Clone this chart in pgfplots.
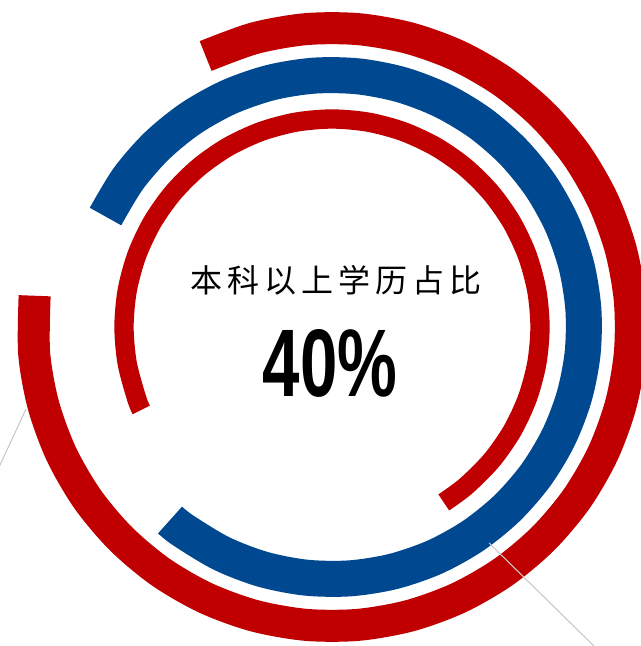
\documentclass[border=0pt]{standalone}
\usepackage{fontspec}
\setmainfont{Liberation Sans}
\newfontfamily\cjk{Noto Sans CJK SC}
\usepackage{pgfplots}
\pgfplotsset{compat=1.18}
\definecolor{arcred}{HTML}{C00000}
\definecolor{arcblue}{HTML}{00488F}
\definecolor{leader}{HTML}{C8C8C8}
\begin{document}
\begin{tikzpicture}
\begin{axis}[
  x=0.75pt, y=0.75pt,
  xmin=-332, xmax=309,
  ymin=-319, ymax=327,
  hide axis,
  clip=true,
]
% outer red ring, radius 299
\addplot[arcred, line width=24pt, smooth, data cs=polar] coordinates {
 (115,299) (105,299) (95,299) (85,299) (75,299) (65,299) (55,299) (45,299)
 (35,299) (25,299) (15,299) (5,299) (-5,299) (-15,299) (-25,299) (-35,299)
 (-45,299) (-55,299) (-65,299) (-75,299) (-85,299) (-95,299) (-105,299)
 (-115,299) (-125,299) (-135,299) (-145,299) (-155,299) (-165,299)
 (-175,299) (-186,299)};
% blue ring, radius 252
\addplot[arcblue, line width=27pt, smooth, data cs=polar] coordinates {
 (154,252) (144,252) (134,252) (124,252) (114,252) (104,252) (94,252)
 (84,252) (74,252) (64,252) (54,252) (44,252) (34,252) (24,252) (14,252)
 (4,252) (-6,252) (-16,252) (-26,252) (-36,252) (-46,252) (-56,252)
 (-66,252) (-76,252) (-86,252) (-96,252) (-106,252) (-116,252) (-126,252)
 (-130,252)};
% inner red ring, radius 208
\addplot[arcred, line width=14.5pt, smooth, data cs=polar] coordinates {
 (-57.5,208) (-50,208) (-40,208) (-30,208) (-20,208) (-10,208) (0,208)
 (10,208) (20,208) (30,208) (40,208) (50,208) (60,208) (70,208) (80,208)
 (90,208) (100,208) (110,208) (120,208) (130,208) (140,208) (150,208)
 (160,208) (170,208) (180,208) (190,208) (200,208) (203.5,208)};
% leader lines
\addplot[leader, line width=0.8pt] coordinates {(-306,-82) (-345,-166)};
\addplot[leader, line width=0.8pt] coordinates {(157,-216) (265,-322)};
\node at (axis cs:4,47) {\cjk\addfontfeature{LetterSpace=16}\fontsize{24}{24}\selectfont 本科以上学历占比};
\node at (axis cs:-2,-36) {\scalebox{0.7}[1]{\fontsize{72}{72}\selectfont\bfseries 40\%}};
\end{axis}
\pgfresetboundingbox
\path (current axis.south west) rectangle (current axis.north east);
\end{tikzpicture}
\end{document}
